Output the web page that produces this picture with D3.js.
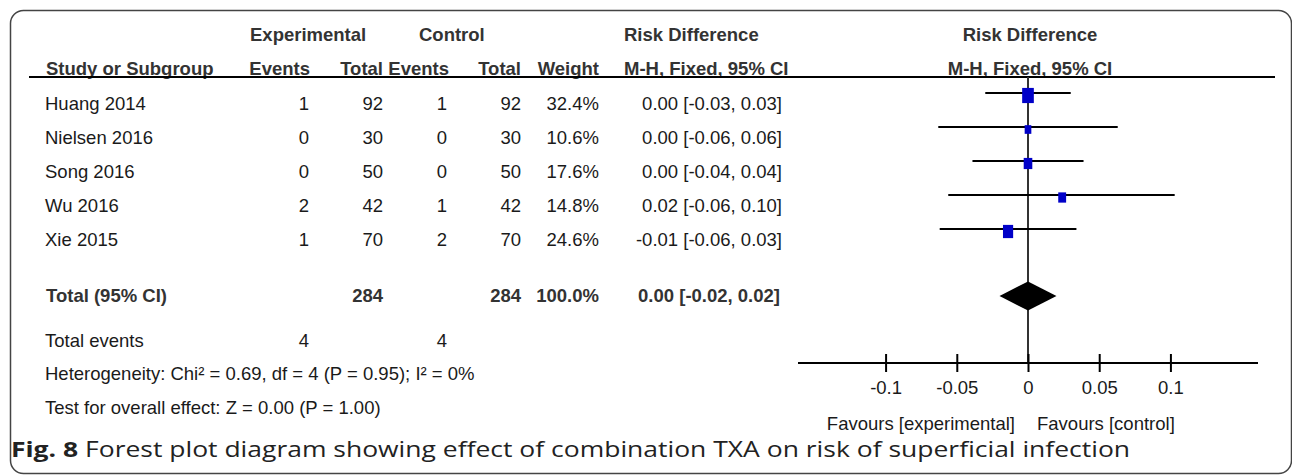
<!DOCTYPE html>
<meta charset="utf-8">
<head>
  <style>
    body { margin: 0; background: #fff; }
    svg { display: block; }
    text { font-family: "Liberation Sans", Arial, sans-serif; font-size: 18.5px; fill: #1a1a1a; }
    .bold { font-weight: bold; fill: #333; }
    .caption { font-family: "Open Sans", "Noto Sans", sans-serif; fill: #222; }
    .ci { stroke: #000; stroke-width: 2px; }
    .zero { stroke: #333; stroke-width: 2px; }
    .axis path, .axis line { stroke: #000; stroke-width: 2px; }
  </style>
  <script src="https://cdn.jsdelivr.net/npm/d3@7"></script>
</head>
<body>
<script>
  // study rows
  var studies    = ["Huang 2014", "Nielsen 2016", "Song 2016", "Wu 2016", "Xie 2015"]
    , expEvents  = [1, 0, 0, 2, 1]
    , expTotal   = [92, 30, 50, 42, 70]
    , ctrlEvents = [1, 0, 0, 1, 2]
    , ctrlTotal  = [92, 30, 50, 42, 70]
    , weights    = [32.4, 10.6, 17.6, 14.8, 24.6]
    , rdLabels   = ["0.00 [-0.03, 0.03]", "0.00 [-0.06, 0.06]", "0.00 [-0.04, 0.04]",
                    "0.02 [-0.06, 0.10]", "-0.01 [-0.06, 0.03]"]
    , rd         = [0.000, 0.000, 0.000, 0.024, -0.014]
    , ciLow      = [-0.030, -0.063, -0.039, -0.056, -0.062]
    , ciHigh     = [0.030, 0.063, 0.039, 0.103, 0.034]

  // pooled
    , total      = {label: "Total (95% CI)", exp: 284, ctrl: 284, weight: "100.0%", rd: "0.00 [-0.02, 0.02]"}
    , pooled     = [0.000, -0.020, 0.020]
    , totalEvents = [4, 4]
    , heterogeneity = "Heterogeneity: Chi² = 0.69, df = 4 (P = 0.95); I² = 0%"
    , overall    = "Test for overall effect: Z = 0.00 (P = 1.00)"

  // axis
    , tickValues = [-0.1, -0.05, 0, 0.05, 0.1]
    , tickLabels = ["-0.1", "-0.05", "0", "0.05", "0.1"]
    , favours    = ["Favours [experimental]", "Favours [control]"]
    , captionBold = "Fig. 8"
    , captionText = " Forest plot diagram showing effect of combination TXA on risk of superficial infection";

  var width = 1292, height = 476;

  var svg = d3.select("body").append("svg")
      .attr("width", width)
      .attr("height", height);

  // rounded frame
  svg.append("rect")
      .attr("x", 10.5).attr("y", 10.5)
      .attr("width", 1281).attr("height", 463)
      .attr("rx", 13)
      .attr("fill", "none")
      .attr("stroke", "#444")
      .attr("stroke-width", 1.5);

  var x = d3.scaleLinear().domain([-0.1615, 0.1615]).range([798, 1258]);

  var rowY = d3.scaleLinear().domain([0, 1]).range([104, 138]); // row index -> text centre
  var totalY = 296, eventsY = 341, hetY = 374, testY = 408, axisY = 363;

  function txt(s, px, py, anchor, cls) {
    return svg.append("text")
        .attr("x", px).attr("y", py)
        .attr("dy", "0.35em")
        .attr("text-anchor", anchor || "start")
        .attr("class", cls || null)
        .text(s);
  }

  // headers
  txt("Experimental", 250, 35, "start", "bold");
  txt("Control", 419, 35, "start", "bold");
  txt("Risk Difference", 624, 35, "start", "bold");
  txt("Risk Difference", 1030, 35, "middle", "bold");

  txt("Study or Subgroup", 46, 68.5, "start", "bold");
  txt("Events", 310, 68.5, "end", "bold");
  txt("Total", 383, 68.5, "end", "bold");
  txt("Events", 449, 68.5, "end", "bold");
  txt("Total", 521, 68.5, "end", "bold");
  txt("Weight", 599, 68.5, "end", "bold");
  txt("M-H, Fixed, 95% CI", 624, 68.5, "start", "bold");
  txt("M-H, Fixed, 95% CI", 1030, 68.5, "middle", "bold");

  svg.append("line")
      .attr("x1", 29).attr("x2", 1275)
      .attr("y1", 77).attr("y2", 77)
      .attr("stroke", "#000").attr("stroke-width", 2);

  // table rows
  studies.forEach(function(s, i) {
    var y = rowY(i);
    txt(s, 45, y);
    txt(expEvents[i], 309, y, "end");
    txt(expTotal[i], 383, y, "end");
    txt(ctrlEvents[i], 447, y, "end");
    txt(ctrlTotal[i], 521, y, "end");
    txt(weights[i].toFixed(1) + "%", 599, y, "end");
    txt(rdLabels[i], 782, y, "end");
  });

  txt(total.label, 46, totalY, "start", "bold");
  txt(total.exp, 383, totalY, "end", "bold");
  txt(total.ctrl, 521, totalY, "end", "bold");
  txt(total.weight, 599, totalY, "end", "bold");
  txt(total.rd, 780, totalY, "end", "bold");

  txt("Total events", 45, eventsY);
  txt(totalEvents[0], 309, eventsY, "end");
  txt(totalEvents[1], 447, eventsY, "end");
  txt(heterogeneity, 45, hetY);
  txt(overall, 45, testY);

  // zero line
  svg.append("line")
      .attr("class", "zero")
      .attr("x1", x(0)).attr("x2", x(0))
      .attr("y1", 77).attr("y2", axisY);

  // CI lines and weight boxes
  var g = svg.append("g");
  g.selectAll(".ci")
      .data(studies)
    .enter().append("line")
      .attr("class", "ci")
      .attr("x1", function(d, i) { return x(ciLow[i]); })
      .attr("x2", function(d, i) { return x(ciHigh[i]); })
      .attr("y1", function(d, i) { return rowY(i) - 11; })
      .attr("y2", function(d, i) { return rowY(i) - 11; });

  var boxW = d3.scaleSqrt().domain([0, 100]).range([0, 20.5]);
  g.selectAll(".box")
      .data(studies)
    .enter().append("rect")
      .attr("class", "box")
      .attr("fill", "#0000c8")
      .attr("x", function(d, i) { return x(rd[i]) - boxW(weights[i]) / 2; })
      .attr("y", function(d, i) { return rowY(i) - 8.5 - boxW(weights[i]) * 0.65; })
      .attr("width", function(d, i) { return boxW(weights[i]); })
      .attr("height", function(d, i) { return boxW(weights[i]) * 1.3; });

  // pooled diamond
  svg.append("path")
      .attr("fill", "#000")
      .attr("d", "M" + x(pooled[1]) + "," + totalY +
                 "L" + x(pooled[0]) + "," + (totalY - 14.5) +
                 "L" + x(pooled[2]) + "," + totalY +
                 "L" + x(pooled[0]) + "," + (totalY + 14.5) + "Z");

  // axis
  var axis = svg.append("g")
      .attr("class", "axis")
      .attr("transform", "translate(0," + axisY + ")")
      .call(d3.axisBottom(x)
          .tickValues(tickValues)
          .tickFormat(function(d, i) { return tickLabels[i]; })
          .tickSizeInner(9)
          .tickSizeOuter(0)
          .tickPadding(10));
  axis.selectAll(".tick line").attr("y1", -9).attr("y2", 9);
  axis.selectAll(".tick text")
      .attr("y", 25)
      .attr("dy", "0.35em")
      .attr("fill", "#1a1a1a")
      .style("font-family", "'Liberation Sans', Arial, sans-serif")
      .style("font-size", "18.5px");
  axis.select(".domain").attr("d", "M" + x.range()[0] + ",0H" + x.range()[1]);

  txt(favours[0], x(0) - 13, 424, "end");
  txt(favours[1], x(0) + 9, 424, "start");

  // caption: the original is a wide face, so stretch it out to the same span
  var cap = svg.append("text")
      .attr("class", "caption")
      .attr("dy", "0.35em")
      .style("font-size", "21px");
  cap.append("tspan").attr("font-weight", "bold").text(captionBold);
  cap.append("tspan").text(captionText);
  var w = cap.node().getComputedTextLength();
  cap.attr("transform", "translate(11,450) scale(" + (1120 / w) + ",1)");
</script>
</body>
